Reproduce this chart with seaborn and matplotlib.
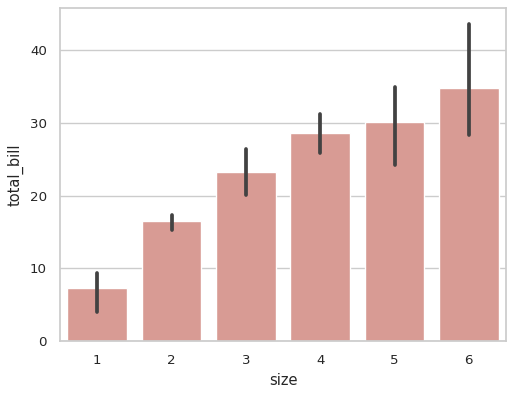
import numpy as np
import pandas as pd
import matplotlib
matplotlib.use("Agg")
import matplotlib.pyplot as plt
import seaborn as sns

# mean total_bill per party size, with CI bounds
sizes = ["1", "2", "3", "4", "5", "6"]
mean_bill = [7.24, 16.45, 23.28, 28.61, 30.07, 34.83]
ci_low = [3.95, 15.25, 20.07, 25.8, 24.2, 28.3]
ci_high = [9.37, 17.31, 26.4, 31.2, 34.9, 43.6]

df = pd.DataFrame({"size": sizes, "total_bill": mean_bill})

sns.set_theme(style="whitegrid", font_scale=0.88)

fig = plt.figure(figsize=(5.14, 3.96), dpi=100)
ax = fig.add_axes([60 / 514, 1 - 341 / 396, 446 / 514, 333 / 396])

sns.barplot(data=df, x="size", y="total_bill", color="salmon",
            saturation=0.5, errorbar=None, ax=ax)

for i, (lo, hi) in enumerate(zip(ci_low, ci_high)):
    ax.plot([i, i], [lo, hi], color=".26", linewidth=2.7,
            solid_capstyle="round")

ax.set_xlim(-0.5, len(sizes) - 0.5)
ax.set_ylim(0, 45.8)

fig.savefig("out.png", dpi=100)
